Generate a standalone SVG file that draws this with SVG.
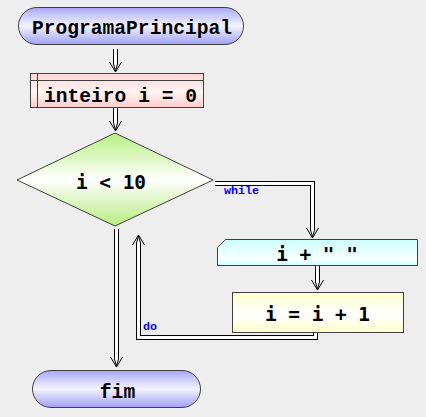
<svg xmlns="http://www.w3.org/2000/svg" width="426" height="417" viewBox="0 0 426 417">
<defs>
<linearGradient id="gTerm" x1="0" y1="0" x2="0" y2="1">
<stop offset="0" stop-color="#a8a8f6"/><stop offset="0.5" stop-color="#f4f4ff"/><stop offset="1" stop-color="#a0a0f4"/>
</linearGradient>
<linearGradient id="gDecl" x1="0" y1="0" x2="0" y2="1">
<stop offset="0" stop-color="#ffd6d6"/><stop offset="0.55" stop-color="#fff4f4"/><stop offset="1" stop-color="#ffcccc"/>
</linearGradient>
<linearGradient id="gIf" x1="0" y1="0" x2="0" y2="1">
<stop offset="0" stop-color="#b8f080"/><stop offset="0.5" stop-color="#ffffff"/><stop offset="1" stop-color="#b8ec80"/>
</linearGradient>
<linearGradient id="gOut" x1="0" y1="0" x2="0" y2="1">
<stop offset="0" stop-color="#ccffff"/><stop offset="0.7" stop-color="#f6ffff"/><stop offset="1" stop-color="#d8ffff"/>
</linearGradient>
<linearGradient id="gCalc" x1="0" y1="0" x2="0" y2="1">
<stop offset="0" stop-color="#ffffd0"/><stop offset="0.55" stop-color="#ffffff"/><stop offset="1" stop-color="#ffffcc"/>
</linearGradient>
</defs>
<style>
.shape{stroke:#404040;stroke-width:1}
.code{font-family:"Liberation Mono","DejaVu Sans Mono",monospace;font-weight:bold;font-size:19.6px;fill:#000;text-anchor:middle}
.code2{font-family:"DejaVu Sans Mono","Liberation Mono",monospace;font-weight:bold;font-size:19.4px;fill:#000;text-anchor:middle}
.lbl{font-family:"Liberation Mono",monospace;font-weight:bold;font-size:11.7px;fill:#0000ff}
.outer{fill:none;stroke:#000;stroke-width:5;stroke-linejoin:miter}
.inner{fill:none;stroke:#fff;stroke-width:3;stroke-linejoin:miter}
.conv{fill:#fff;stroke:#000;stroke-width:1}
.wing{fill:none;stroke:#000;stroke-width:1}
</style>
<rect width="426" height="417" fill="#eeeeee"/>
<g id="connectors">
<!-- start -> declaration -->
<path class="outer" d="M115.5,49 V64"/><path class="inner" d="M115.5,49 V64"/>
<path class="conv" d="M113.5,64 L115.5,71 L117.5,64"/><path class="wing" d="M109.5,62 L115.5,72 L121.5,62"/>
<!-- declaration -> decision -->
<path class="outer" d="M115.5,108 V123"/><path class="inner" d="M115.5,108 V123"/>
<path class="conv" d="M113.5,123 L115.5,130 L117.5,123"/><path class="wing" d="M109.5,121 L115.5,131 L121.5,121"/>
<!-- while -->
<path class="outer" d="M215,183.5 H312.5 V230"/><path class="inner" d="M215,183.5 H312.5 V230"/>
<path class="conv" d="M310.5,230 L312.5,237 L314.5,230"/><path class="wing" d="M306.5,228 L312.5,238 L318.5,228"/>
<!-- output -> calc -->
<path class="outer" d="M317.5,266 V282"/><path class="inner" d="M317.5,266 V282"/>
<path class="conv" d="M315.5,282 L317.5,289 L319.5,282"/><path class="wing" d="M311.5,280 L317.5,290 L323.5,280"/>
<!-- do loop back -->
<path class="outer" d="M315.5,332 V337.5 H138.5 V243"/><path class="inner" d="M315.5,332 V337.5 H138.5 V243"/>
<path class="conv" d="M136.5,243 L138.5,236 L140.5,243"/><path class="wing" d="M132.5,245 L138.5,235 L144.5,245"/>
<!-- exit -> fim -->
<path class="outer" d="M116.5,229 V359"/><path class="inner" d="M116.5,229 V359"/>
<path class="conv" d="M114.5,359 L116.5,366 L118.5,359"/><path class="wing" d="M110.5,357 L116.5,367 L122.5,357"/>
<text class="lbl" x="224" y="194">while</text>
<text class="lbl" x="143" y="330">do</text>
</g>
<g id="start">
<rect class="shape" x="18.5" y="7.5" width="225" height="37" rx="18.5" fill="url(#gTerm)"/>
<text class="code" x="132" y="34">ProgramaPrincipal</text>
</g>
<g id="declaration">
<rect class="shape" x="30.5" y="73.5" width="173" height="34" fill="url(#gDecl)"/>
<path class="shape" d="M30.5,80.5 H203.5 M37.5,73.5 V107.5" fill="none"/>
<text class="code" x="120.5" y="102">inteiro i = 0</text>
</g>
<g id="decision">
<polygon class="shape" points="17,180 115,133 213,180 115,226" fill="url(#gIf)"/>
<text class="code2" x="111" y="189">i &lt; 10</text>
</g>
<g id="output">
<path class="shape" d="M225.5,239.5 H417.5 V265.5 H217.5 V247.5 Z" fill="url(#gOut)"/>
<text class="code2" x="317" y="261">i + " "</text>
</g>
<g id="calc">
<rect class="shape" x="232.5" y="292.5" width="171" height="40" fill="url(#gCalc)"/>
<text class="code2" x="317.5" y="321">i = i + 1</text>
</g>
<g id="end">
<rect class="shape" x="32.5" y="370.5" width="168" height="37" rx="18.5" fill="url(#gTerm)"/>
<text class="code" x="117.5" y="398">fim</text>
</g>
</svg>
